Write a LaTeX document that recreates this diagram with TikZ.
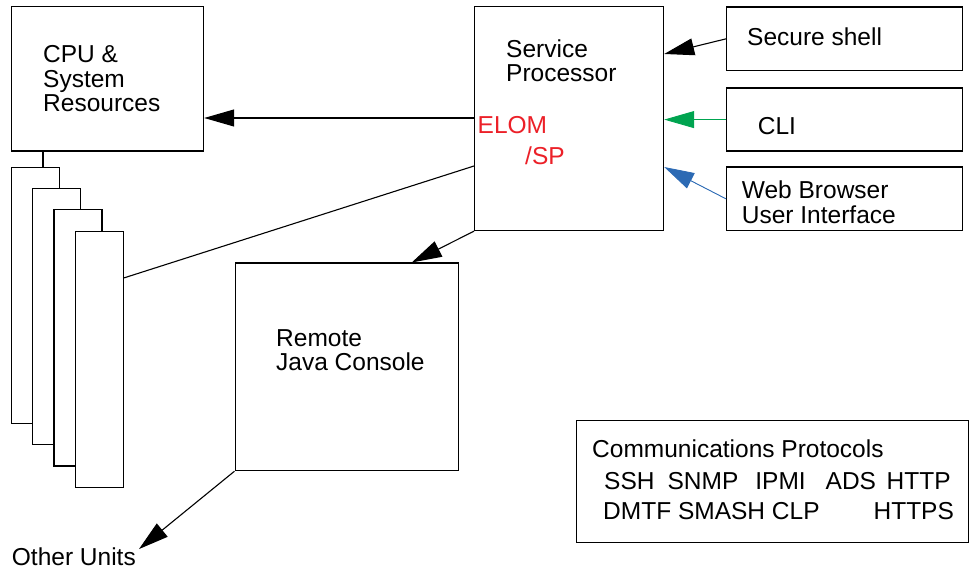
\documentclass[tikz,border=0pt]{standalone}
\usepackage{fontspec}
\setmainfont{Liberation Sans}
\usepackage{tikz}
\usetikzlibrary{arrows.meta, positioning}
\definecolor{elomred}{RGB}{236,32,40}
\definecolor{cligreen}{RGB}{0,164,80}
\definecolor{webblue}{RGB}{44,106,180}
\tikzstyle{box} = [rectangle, draw=black, line width=1.2pt, fill=white, anchor=north west, inner sep=0pt]
\tikzstyle{card} = [box, minimum width=48pt, minimum height=256pt]
\tikzstyle{txt} = [inner sep=0pt, anchor=base west, align=left]
\tikzstyle{mtxt} = [inner sep=0pt, anchor=north west, align=left]
\tikzstyle{arrow} = [line width=1.1pt, -{Triangle[length=30pt,width=17pt]}]

\begin{document}
\begin{tikzpicture}[x=1pt, y=-1pt, font=\fontsize{24.5}{24.5}\selectfont]
\useasboundingbox (0,0) rectangle (971,569);

% Nodes
\node (cpu) [box, minimum width=192.5pt, minimum height=144.5pt] at (10.5,6) {};
\node (cputxt) [mtxt] at (43,45.4) {CPU \&\\System\\Resources};

\node (card1) [card] at (10.7,166.7) {};
\node (card2) [card] at (32,188) {};
\node (card3) [card] at (53.3,209.3) {};
\node (card4) [card] at (74.5,230.7) {};

\node (sp) [box, minimum width=189pt, minimum height=224pt] at (474,6) {};
\node (sptxt) [mtxt] at (506,39.4) {Service\\Processor};
\node (elom) [txt, text=elomred] at (477.5,133.3) {ELOM};
\node (slashsp) [txt, text=elomred] at (525,165) {/SP};

\node (ssh) [box, minimum width=236pt, minimum height=63.5pt] at (726,6.5) {};
\node (sshtxt) [txt] at (747,45.7) {Secure shell};
\node (cli) [box, minimum width=236pt, minimum height=63pt] at (726,87.5) {};
\node (clitxt) [txt] at (757.7,134.3) {CLI};
\node (web) [box, minimum width=236pt, minimum height=63.5pt] at (726,166.5) {};
\node (webtxt) [mtxt] at (741.7,180.7) {Web Browser\\User Interface};

\node (rjc) [box, minimum width=223.5pt, minimum height=207.5pt] at (234.5,262.5) {};
\node (rjctxt) [mtxt] at (276,329) {Remote\\Java Console};

\node (other) [txt] at (11.7,565) {Other Units};

\node (proto) [box, minimum width=392pt, minimum height=122pt] at (576,420) {};
\node (prototxt) [txt] at (592,457) {Communications Protocols};
\node (row1) [txt] at (604,489) {SSH\hspace{13pt}SNMP\hspace{17pt}IPMI\hspace{20pt}ADS\hspace{10.6pt}HTTP};
\node (row2) [txt] at (603,519) {DMTF SMASH CLP\hspace{54pt}HTTPS};

% Arrows
\draw [line width=1.2pt] ([xshift=32.5pt]cpu.south west) -- ([xshift=32.5pt]cpu.south west |- card1.north);
\draw [arrow] ([yshift=-112pt]sp.north west) -- ([yshift=-112pt]sp.north west -| cpu.east);
\draw [line width=1.1pt] ([yshift=-160pt]sp.north west) -- ([yshift=-47.3pt]card4.north east);
\draw [arrow] (ssh.west) -- ([yshift=-48pt]sp.north east);
\draw [arrow, line width=0.9pt, draw=cligreen, fill=cligreen] (cli.west) -- (cli.west -| sp.east);
\draw [arrow, line width=0.9pt, draw=webblue, fill=webblue] (web.west) -- ([yshift=-161pt]sp.north east);
\draw [arrow] (sp.south west) -- ([xshift=177.2pt]rjc.north west);
\draw [arrow] (rjc.south west) -- ([xshift=3pt,yshift=-2pt]other.north east);

\end{tikzpicture}
\end{document}
